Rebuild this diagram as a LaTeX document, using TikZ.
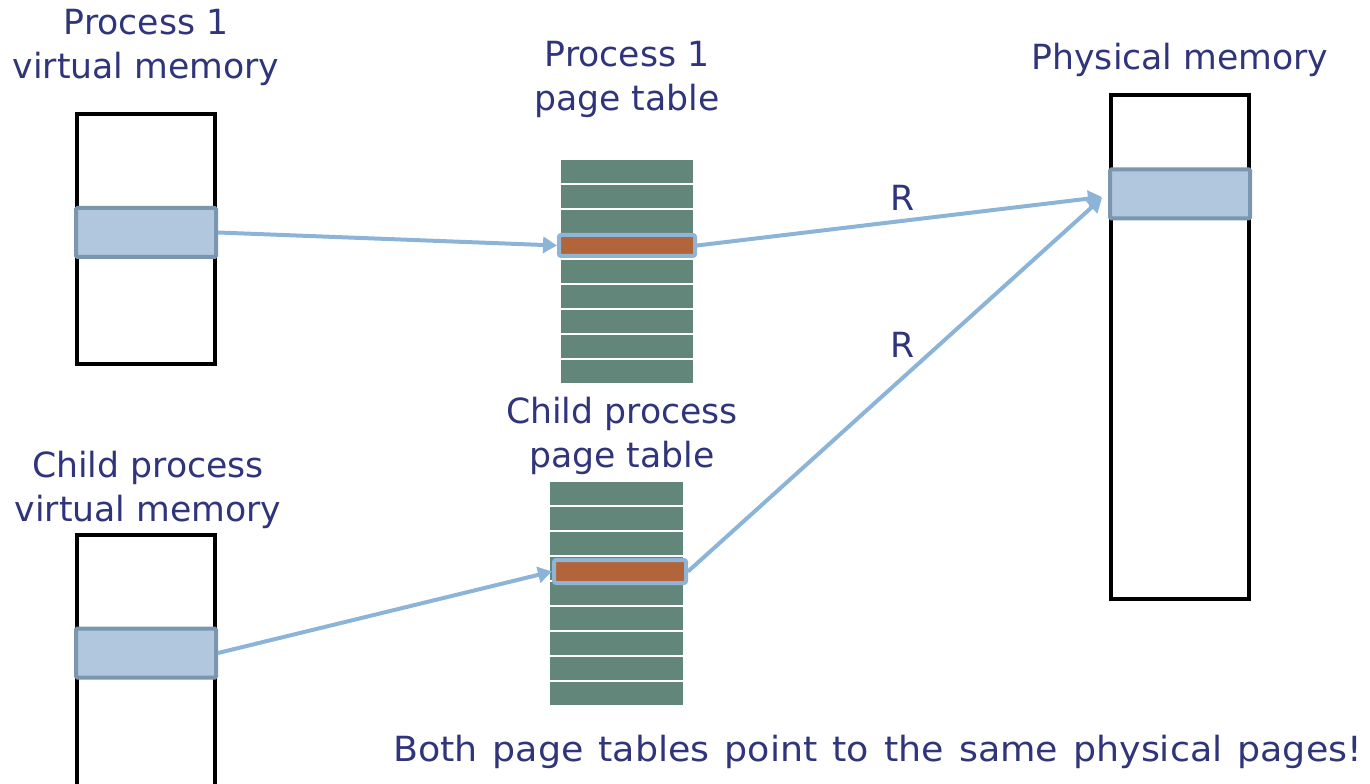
\documentclass[tikz,border=0pt]{standalone}
\usepackage{fontspec}
\setmainfont{DejaVu Sans}
\newfontfamily\widespaced[WordSpace=1.3, FakeStretch=1.05]{DejaVu Sans}
\usetikzlibrary{arrows.meta}
\definecolor{txt}{RGB}{48,52,122}
\definecolor{ptrow}{RGB}{98,135,122}
\definecolor{entry}{RGB}{178,101,58}
\definecolor{hilite}{RGB}{143,180,213}
\definecolor{bandfill}{RGB}{176,199,222}
\definecolor{bandline}{RGB}{123,150,175}
\definecolor{link}{RGB}{140,180,216}
\def\u{0.75pt}
\tikzset{
  lbl/.style={text=txt, font=\fontsize{26}{33}\selectfont, align=center, inner sep=0pt},
  membox/.style={draw=black, line width=4*\u, minimum width=138*\u},
  band/.style={draw=bandline, fill=bandfill, line width=4*\u, rounded corners=1pt,
    minimum width=140*\u, minimum height=49*\u},
  ptline/.style={fill=ptrow, minimum height=23*\u, inner sep=0pt},
  hirow/.style={fill=entry, draw=hilite, line width=4*\u, rounded corners=1.5pt, inner sep=0pt},
  link/.style={draw=link, line width=4*\u, -{Triangle[length=14*\u, width=16*\u]}},
}
\begin{document}
\begin{tikzpicture}[x=\u, y=-\u]
\clip (0,0) rectangle (1370,784);

% virtual memory and physical memory columns
\node[membox, minimum height=250*\u] (p1vm) at (146,239) {};
\node[membox, minimum height=280*\u] (chvm) at (146,675) {};
\node[membox, minimum height=504*\u] (phys) at (1180,347) {};

% highlighted pages
\node[band] (p1page) at (146,232.5) {};
\node[band] (chpage) at (146,653) {};
\node[band] (physpage) at (1180,194) {};

% process 1 page table
\foreach \k in {0,...,8}
  \node[ptline, minimum width=132*\u] (p1pt\k) at (627,{171.5+25*\k}) {};
\node[hirow, minimum width=136*\u, minimum height=21*\u] (p1entry) at (627,245.5) {};

% child process page table
\foreach \k in {0,...,8}
  \node[ptline, minimum width=133*\u] (chpt\k) at (616.5,{493.5+25*\k}) {};
\node[hirow, minimum width=132*\u, minimum height=23*\u] (chentry) at (620,571.5) {};

% mappings
\draw[link] (p1page.east) -- (p1entry.west);
\draw[link] (p1entry.east) -- ([xshift=-6*\u, yshift=-3*\u]physpage.west);
\draw[link] (chpage.east) -- (chentry.west);
\draw[link] (chentry.east) -- ([xshift=-6*\u, yshift=-4*\u]physpage.west);

% labels
\node[lbl] (t1) at (146,47) {Process 1\\virtual memory};
\node[lbl] (t2) at (627,79) {Process 1\\page table};
\node[lbl] (t3) at (1180,60) {Physical memory};
\node[lbl] (t4) at (622,436) {Child process\\page table};
\node[lbl] (t5) at (148,490) {Child process\\virtual memory};
\node[lbl] (r1) at (903,198) {R};
\node[lbl] (r2) at (903,345) {R};
\node[lbl, font=\widespaced\fontsize{26}{33}\selectfont] (t6) at (877.5,752) {Both page tables point to the same physical pages!};
\end{tikzpicture}
\end{document}
